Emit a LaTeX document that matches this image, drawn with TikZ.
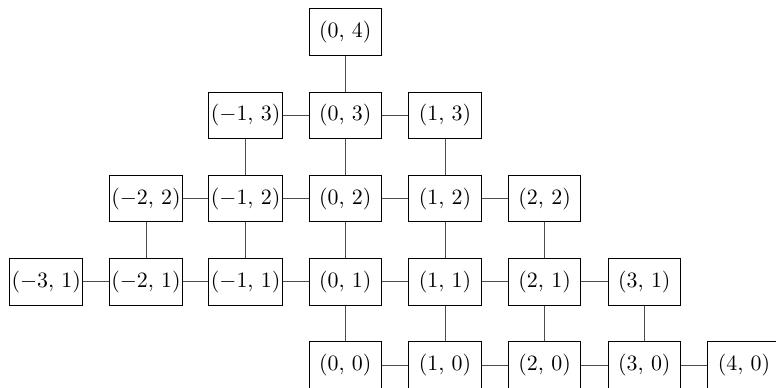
\documentclass[tikz,border=0pt]{standalone}
\begin{document}
\begin{tikzpicture}[x=0.5pt,y=-0.5pt,
    cell/.style={draw, line width=0.5pt, minimum width=36.3pt, minimum height=23.3pt, inner sep=1pt,
                 font=\fontsize{10.5}{12.5}\selectfont},
    link/.style={line width=0.45pt, black!70}]
  \useasboundingbox (0,0) rectangle (776,387);
  \clip (0,0) rectangle (776,387);
  % lattice points, row by row
  \foreach \r/\cols in {4/{0}, 3/{-1,0,1}, 2/{-2,-1,0,1,2}, 1/{-3,-2,-1,0,1,2,3}, 0/{0,1,2,3,4}}
    \foreach \c in \cols
      \node[cell] (n\c-\r) at ({345.3+99.67*\c},{365-83.2*\r}) {$(\c,\,\r)$};
  % horizontal neighbours
  \foreach \a/\b/\r in {-1/0/3, 0/1/3,
                        -2/-1/2, -1/0/2, 0/1/2, 1/2/2,
                        -3/-2/1, -2/-1/1, -1/0/1, 0/1/1, 1/2/1, 2/3/1,
                        0/1/0, 1/2/0, 2/3/0, 3/4/0}
    \draw[link] (n\a-\r) -- (n\b-\r);
  % vertical neighbours
  \foreach \c/\r/\s in {0/4/3,
                        -1/3/2, 0/3/2, 1/3/2,
                        -2/2/1, -1/2/1, 0/2/1, 1/2/1, 2/2/1,
                        0/1/0, 1/1/0, 2/1/0, 3/1/0}
    \draw[link] (n\c-\r) -- (n\c-\s);
\end{tikzpicture}
\end{document}
